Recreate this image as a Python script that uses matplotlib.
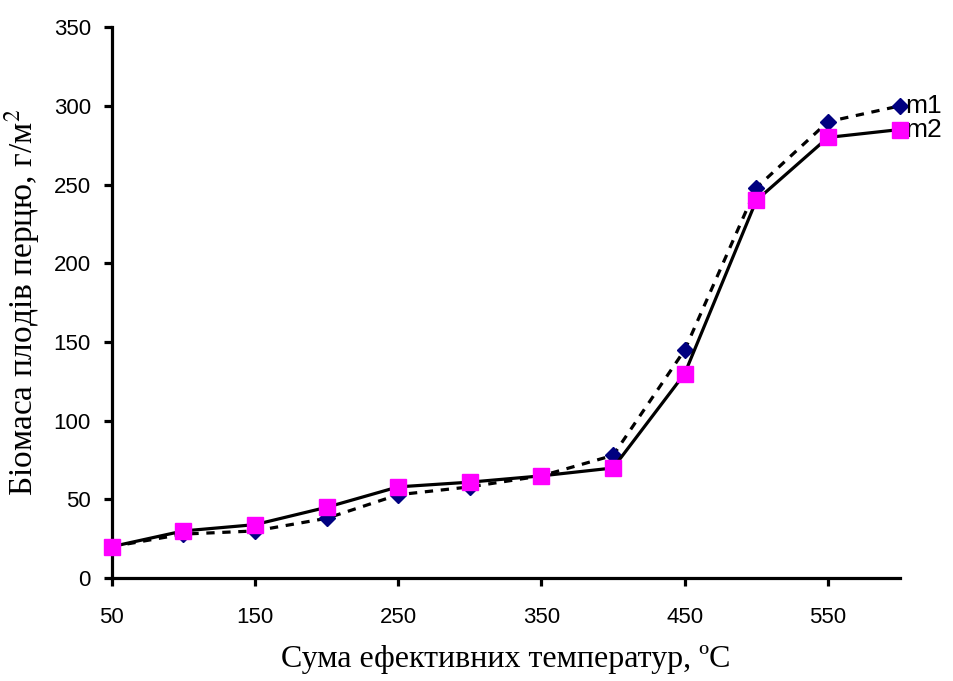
import numpy as np
from matplotlib import pyplot as plt

# data
temp_sum = [50, 100, 150, 200, 250, 300, 350, 400, 450, 500, 550, 600]
m1 = [20, 28, 30, 38, 53, 58, 65, 78, 145, 248, 290, 300]
m2 = [20, 30, 34, 45, 58, 61, 65, 70, 130, 240, 280, 285]
series_names = ["m1", "m2"]
x_ticks = [50, 150, 250, 350, 450, 550]
y_ticks = [0, 50, 100, 150, 200, 250, 300, 350]

plt.rcParams['mathtext.fontset'] = 'stix'

fig = plt.figure(figsize=(9.54, 6.81), dpi=100)
ax = fig.add_axes([0.117, 0.151, 0.826, 0.809])

ax.plot(temp_sum, m1, color='black', lw=2.3, linestyle=(0, (2.6, 2.4)),
        marker='D', ms=8, mfc='#000080', mec='#000080', zorder=3, clip_on=False)
ax.plot(temp_sum, m2, color='black', lw=2.3, linestyle='-',
        marker='s', ms=11, mfc='#FF00FF', mec='#FF00FF', zorder=4, clip_on=False)

for name, vals in zip(series_names, [m1, m2]):
    ax.annotate(name, xy=(temp_sum[-1], vals[-1]), xytext=(4, 0),
                textcoords='offset points', va='center', ha='left',
                fontsize=19, family='Liberation Sans', annotation_clip=False)

ax.set_xlim(50, 600)
ax.set_ylim(0, 350)
ax.set_xticks(x_ticks)
ax.set_yticks(y_ticks)

for sp in ['top', 'right']:
    ax.spines[sp].set_visible(False)
for sp in ['left', 'bottom']:
    ax.spines[sp].set_linewidth(2.3)

ax.tick_params(axis='x', length=6, width=2.3, pad=15, labelsize=16)
ax.tick_params(axis='y', length=6, width=2.3, pad=9, labelsize=16)
for lab in ax.get_xticklabels() + ax.get_yticklabels():
    lab.set_family('Liberation Sans')

ax.set_xlabel("Сума ефективних температур, ºС", fontsize=23,
              family='Liberation Serif', labelpad=12)
ax.set_ylabel("Біомаса плодів перцю, г/м$^{2}$", fontsize=24,
              family='Liberation Serif', labelpad=8)

plt.savefig("out.png", dpi=100)
